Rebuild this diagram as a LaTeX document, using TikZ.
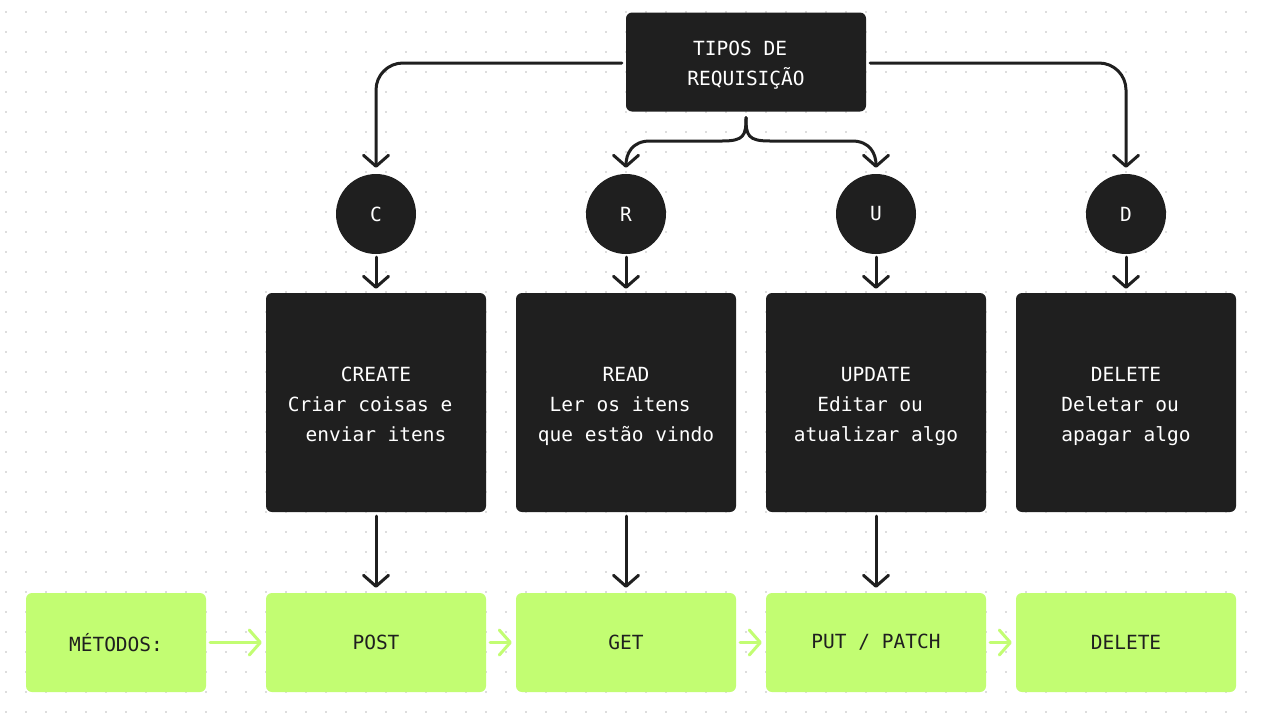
\documentclass[tikz,border=0pt]{standalone}
\usepackage{fontspec}
\setmonofont{DejaVu Sans Mono}
\usetikzlibrary{arrows.meta,calc}
\definecolor{dark}{HTML}{1F1F1F}
\definecolor{lime}{HTML}{C2FD72}
\definecolor{dotc}{HTML}{DDDDDD}
\newcommand{\tsp}{\hphantom{0}}
\newcommand{\dph}{\vphantom{gq}}
\begin{document}
\begin{tikzpicture}[x=1pt,y=-1pt,
  font=\ttfamily\fontsize{19.5}{30}\selectfont,
  topbox/.style={fill=dark,rounded corners=6pt,minimum width=240pt,minimum height=99pt,inner sep=0pt},
  darkbox/.style={fill=dark,rounded corners=6pt,minimum width=220pt,minimum height=219pt,inner sep=0pt},
  wtext/.style={text=white,align=center,inner sep=0pt},
  circ/.style={circle,fill=dark,text=white,minimum size=80pt,inner sep=0pt},
  greenbox/.style={fill=lime,text=dark,rounded corners=6pt,minimum width=220pt,minimum height=99pt,align=center,inner sep=0pt},
  conn/.style={draw=dark,line width=3pt,line cap=round,line join=round,-{Straight Barb[length=11pt,width=25pt,round]}},
  garrow/.style={draw=lime,line width=3pt,line cap=round,line join=round,-{Straight Barb[length=11pt,width=25pt,round]}}
]
\useasboundingbox (0,0) rectangle (1265,718);
\fill[white] (0,0) rectangle (1265,718);
\foreach \i in {0,...,62}{\foreach \j in {0,...,35}{\fill[dotc] (5+20*\i,11+20*\j) rectangle ++(2,2);}}

\node[topbox] (top) at (746,62) {};
\node[wtext] (topt) at ($(top)+(0,3)$) {TIPOS DE\tsp\\REQUISIÇÃO\dph};

\node[circ] (c1) at (376,214) {C};
\node[circ] (c2) at (626,214) {R};
\node[circ] (c3) at (876,214) {U};
\node[circ] (c4) at (1126,214) {D};

\node[darkbox] (b1) at (376,402.5) {};
\node[darkbox] (b2) at (626,402.5) {};
\node[darkbox] (b3) at (876,402.5) {};
\node[darkbox] (b4) at (1126,402.5) {};
\node[wtext] (b1t) at ($(b1)+(0,3.5)$) {CREATE\\Criar coisas e\tsp\\enviar itens\dph};
\node[wtext] (b2t) at ($(b2)+(0,3.5)$) {READ\\Ler os itens\tsp\\que estão vindo\dph};
\node[wtext] (b3t) at ($(b3)+(0,3.5)$) {UPDATE\\Editar ou\tsp\\atualizar algo\dph};
\node[wtext] (b4t) at ($(b4)+(0,3.5)$) {DELETE\\Deletar ou\tsp\\apagar algo\dph};

\node[greenbox,minimum width=180pt] (g0) at (116,642.5) {MÉTODOS:};
\node[greenbox] (g1) at (376,642.5) {POST};
\node[greenbox] (g2) at (626,642.5) {GET};
\node[greenbox] (g3) at (876,642.5) {PUT / PATCH};
\node[greenbox] (g4) at (1126,642.5) {DELETE};

% top connectors
\draw[conn,rounded corners=27pt] ($(top.west)+(-4,1)$) -| ($(c1.north)+(0,-6)$);
\draw[conn,rounded corners=27pt] ($(top.east)+(4,1)$) -| ($(c4.north)+(0,-6)$);
\coordinate (bt) at ($(top.south)+(0,6)$);
\draw[conn] (bt) .. controls +(0,18) and +(22,0) .. (722,141) -- (650,141) .. controls +(-18,0) and +(0,-14) .. ($(c2.north)+(0,-6)$);
\draw[conn] (bt) .. controls +(0,18) and +(-22,0) .. (770,141) -- (852,141) .. controls +(18,0) and +(0,-14) .. ($(c3.north)+(0,-6)$);

\foreach \k in {1,2,3,4}{
  \draw[conn] ($(c\k.south)+(0,3)$) -- ($(b\k.north)+(0,-4)$);
}
\foreach \k in {1,2,3}{
  \draw[conn] ($(b\k.south)+(0,4)$) -- ($(g\k.north)+(0,-5)$);
}
\draw[garrow] ($(g0.east)+(4,0)$) -- ($(g1.west)+(-4,0)$);
\draw[garrow] ($(g1.east)+(4,0)$) -- ($(g2.west)+(-4,0)$);
\draw[garrow] ($(g2.east)+(4,0)$) -- ($(g3.west)+(-4,0)$);
\draw[garrow] ($(g3.east)+(4,0)$) -- ($(g4.west)+(-4,0)$);
\end{tikzpicture}
\end{document}
